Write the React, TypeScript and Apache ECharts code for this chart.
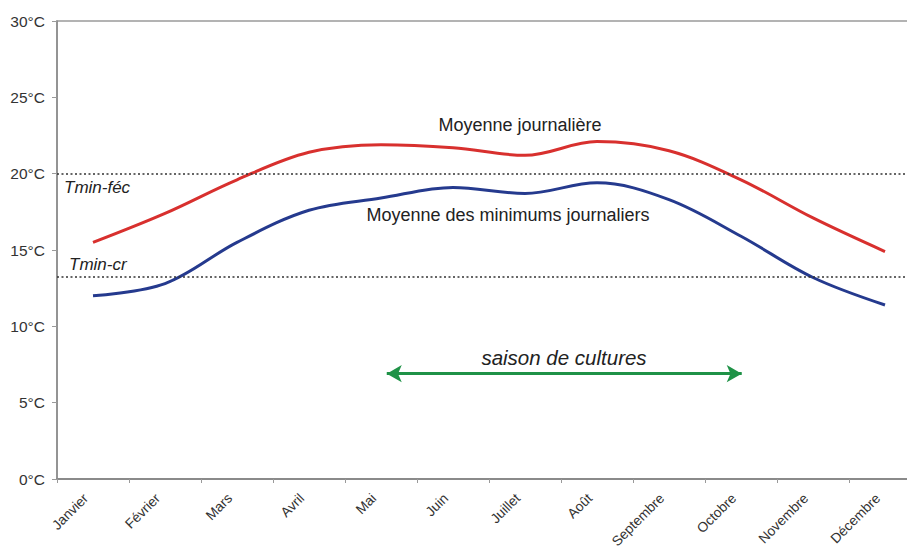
import React, { useEffect, useRef } from "react";
import * as echarts from "echarts";

const months = ["Janvier", "Février", "Mars", "Avril", "Mai", "Juin", "Juillet", "Août", "Septembre", "Octobre", "Novembre", "Décembre"];
const moyenneJournaliere = [15.5, 17.4, 19.6, 21.4, 21.9, 21.7, 21.2, 22.1, 21.5, 19.6, 17.1, 14.9];
const moyenneMinimums = [12.0, 12.8, 15.5, 17.6, 18.4, 19.1, 18.7, 19.4, 18.3, 15.9, 13.2, 11.4];
const tminFec = 20;
const tminCr = 13.25;
// saison de cultures : from mid-month positions (value-axis, 0..12 month span)
const saisonStart = 4.58;
const saisonEnd = 9.51;
const saisonLevel = 6.9;

export default function App() {
  const ref = useRef<HTMLDivElement>(null);
  useEffect(() => {
    if (!ref.current) return;
    const chart = echarts.init(ref.current, null, { renderer: "svg" });
    const font = "'Liberation Sans', Arial, sans-serif";
    chart.setOption({
      animation: false,
      backgroundColor: "#ffffff",
      textStyle: { fontFamily: font },
      grid: {
        left: 57,
        top: 21,
        right: -14,
        bottom: 72,
        show: true,
        borderColor: "#9a9a9a",
        borderWidth: 1.5,
        outerBoundsMode: "none",
        containLabel: false,
      },
      xAxis: [
        {
          type: "category",
          data: months,
          boundaryGap: true,
          axisLine: { show: true, lineStyle: { color: "#8a8a8a", width: 2 } },
          axisTick: { show: true, length: 4, alignWithLabel: false, lineStyle: { color: "#9a9a9a" } },
          axisLabel: {
            rotate: 45,
            fontSize: 13.8,
            color: "#333",
            margin: 10,
            padding: [0, 10, 0, 0],
            fontFamily: font,
            interval: 0,
          },
          splitLine: { show: false },
        },
        {
          type: "value",
          min: 0,
          max: 12,
          show: false,
          position: "bottom",
        },
      ],
      yAxis: {
        type: "value",
        min: 0,
        max: 30,
        interval: 5,
        axisLine: { show: true, lineStyle: { color: "#8a8a8a", width: 1.5 } },
        axisTick: { show: true, length: 5, lineStyle: { color: "#9a9a9a" } },
        axisLabel: { formatter: "{value}°C", fontSize: 15.5, color: "#333", margin: 12, fontFamily: font },
        splitLine: { show: false },
      },
      series: [
        {
          name: "Moyenne journalière",
          type: "line",
          data: moyenneJournaliere,
          smooth: 0.35,
          symbol: "none",
          lineStyle: { color: "#d8302e", width: 3 },
          z: 3,
          markLine: {
            silent: true,
            symbol: "none",
            lineStyle: { color: "#333", type: [2, 2.5], width: 1.5 },
            label: {
              show: true,
              fontStyle: "italic",
              fontSize: 17,
              color: "#222",
              fontFamily: font,
            },
            data: [
              {
                yAxis: tminFec,
                label: { formatter: "Tmin-féc", position: "insideStartBottom", distance: [7, 5] },
              },
              {
                yAxis: tminCr,
                label: { formatter: "Tmin-cr", position: "insideStartTop", distance: [12, 3.5] },
              },
            ],
          },
        },
        {
          name: "Moyenne des minimums journaliers",
          type: "line",
          data: moyenneMinimums,
          smooth: 0.35,
          symbol: "none",
          lineStyle: { color: "#253a8e", width: 3 },
          z: 3,
        },
        {
          name: "saison",
          type: "line",
          xAxisIndex: 1,
          data: [],
          markLine: {
            silent: true,
            symbol: ["arrow", "arrow"],
            symbolSize: [13, 15],
            lineStyle: { color: "#1f9247", type: "solid", width: 3 },
            label: { show: false },
            data: [
              [
                { coord: [saisonStart, saisonLevel] },
                { coord: [saisonEnd, saisonLevel] },
              ],
            ],
          },
        },
      ],
      graphic: [
        {
          type: "text",
          x: 520,
          y: 125,
          style: { text: "Moyenne journalière", fontSize: 18, fill: "#222", fontFamily: font, align: "center", verticalAlign: "middle" },
        },
        {
          type: "text",
          x: 508,
          y: 215,
          style: { text: "Moyenne des minimums journaliers", fontSize: 18, fill: "#222", fontFamily: font, align: "center", verticalAlign: "middle" },
        },
        {
          type: "text",
          x: 564,
          y: 357,
          style: { text: "saison de cultures", fontSize: 20.5, fontStyle: "italic", fill: "#222", fontFamily: font, align: "center", verticalAlign: "middle" },
        },
      ],
    });
    return () => chart.dispose();
  }, []);
  return <div ref={ref} style={{ position: "absolute", left: 0, top: 0, width: 907, height: 551 }} />;
}
